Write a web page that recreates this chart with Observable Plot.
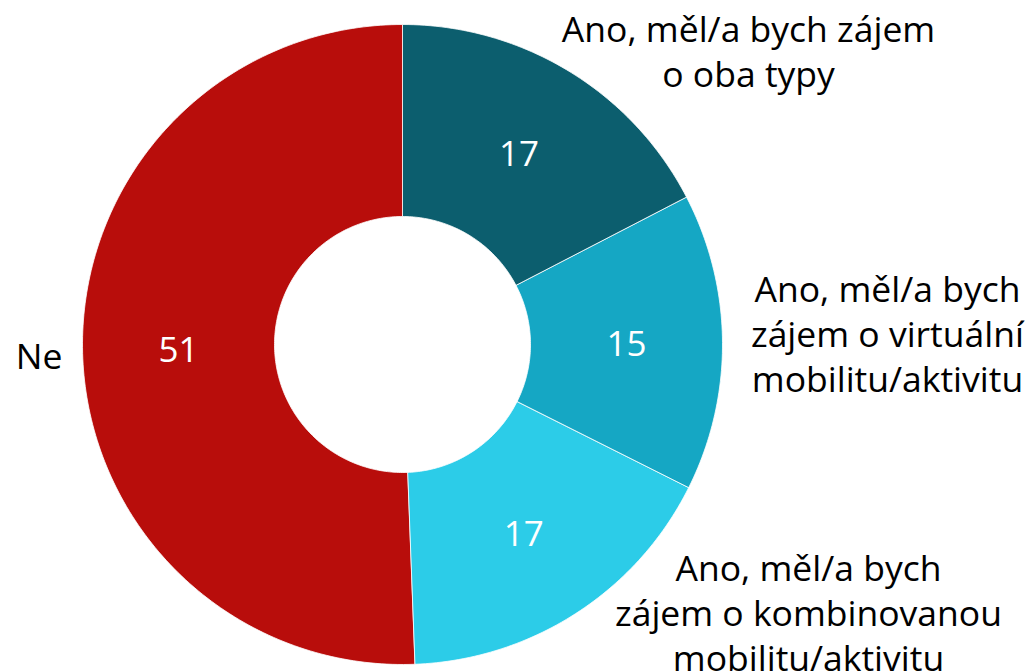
<!DOCTYPE html>
<html>
<head>
<meta charset="utf-8">
<script src="https://cdn.jsdelivr.net/npm/d3@7"></script>
<script src="https://cdn.jsdelivr.net/npm/@observablehq/plot@0.6"></script>
<style>
  html, body { margin: 0; padding: 0; background: #ffffff; }
  #chart svg { display: block; }
</style>
</head>
<body>
<div id="chart"></div>
<script>
// ---- data ----
const categories = [
  "Ano, měl/a bych zájem o oba typy",
  "Ano, měl/a bych zájem o virtuální mobilitu/aktivitu",
  "Ano, měl/a bych zájem o kombinovanou mobilitu/aktivitu",
  "Ne"
];
const values = [17.4, 15.0, 17.0, 50.6];   // slice shares (%)
const labelLines = [
  "Ano, měl/a bych zájem\no oba typy",
  "Ano, měl/a bych\nzájem o virtuální\nmobilitu/aktivitu",
  "Ano, měl/a bych\nzájem o kombinovanou\nmobilitu/aktivitu",
  "Ne"
];
const colors = ["#0c5e6e", "#15a7c4", "#2ccce8", "#b80d0b"];

// ---- layout (not data) ----
const innerRatio = 0.40;                 // hole size relative to outer radius
const labelAngle = [49.6, 88.6, 123.3, 268.3];  // degrees clockwise from 12 o'clock
const labelDist  = [1.42, 1.516, 1.518, 1.063]; // in outer radii
const labelAnchor = ["middle", "middle", "middle", "end"];
const fontFamily = "'Open Sans', 'Noto Sans', sans-serif";

// ---- geometry from the data ----
const pie = d3.pie().sort(null).value(d => d)(values);
const toXY = (a, r) => [r * Math.sin(a), -r * Math.cos(a)]; // y grows downward (identity projection)

const slices = pie.map((p, i) => {
  const n = Math.max(8, Math.ceil((p.endAngle - p.startAngle) / (Math.PI / 180)));
  const ring = [];
  for (let k = 0; k <= n; k++) ring.push(toXY(p.startAngle + (p.endAngle - p.startAngle) * k / n, 1));
  for (let k = n; k >= 0; k--) ring.push(toXY(p.startAngle + (p.endAngle - p.startAngle) * k / n, innerRatio));
  ring.push(ring[0]);
  const mid = (p.startAngle + p.endAngle) / 2;
  const [cx, cy] = toXY(mid, (1 + innerRatio) / 2);
  const la = labelAngle[i] * Math.PI / 180;
  const [lx, ly] = toXY(la, labelDist[i]);
  return {
    type: "Feature",
    properties: {category: categories[i], value: values[i], label: labelLines[i], cx, cy, lx, ly, anchor: labelAnchor[i]},
    geometry: {type: "Polygon", coordinates: [ring]}
  };
});

const outline = {type: "Polygon", coordinates: [d3.range(0, 361, 2).map(a => toXY(a * Math.PI / 180, 1))]};

const chart = Plot.plot({
  width: 1030,
  height: 671,
  marginLeft: 82,
  marginRight: 308,
  marginTop: 24,
  marginBottom: 7,
  projection: {type: "identity", domain: outline, clip: false},
  color: {domain: categories, range: colors},
  style: {fontFamily, background: "#ffffff", overflow: "visible"},
  marks: [
    Plot.geo(slices, {fill: d => d.properties.category, stroke: "#ffffff", strokeWidth: 0.8}),
    Plot.text(slices, {
      x: d => d.properties.cx, y: d => d.properties.cy,
      text: d => d3.format(".0f")(d.properties.value),
      fill: "#ffffff", fontSize: 35, dy: 2, fontFamily
    }),
    Plot.text(slices.filter(d => d.properties.anchor === "middle"), {
      x: d => d.properties.lx, y: d => d.properties.ly,
      text: d => d.properties.label,
      fill: "#000000", fontSize: 35.5, lineHeight: 1.27, textAnchor: "middle", lineAnchor: "middle", fontFamily
    }),
    Plot.text(slices.filter(d => d.properties.anchor === "end"), {
      x: d => d.properties.lx, y: d => d.properties.ly,
      text: d => d.properties.label,
      fill: "#000000", fontSize: 35.5, lineHeight: 1.27, textAnchor: "end", lineAnchor: "middle", fontFamily
    })
  ]
});
document.getElementById("chart").appendChild(chart);
</script>
</body>
</html>
